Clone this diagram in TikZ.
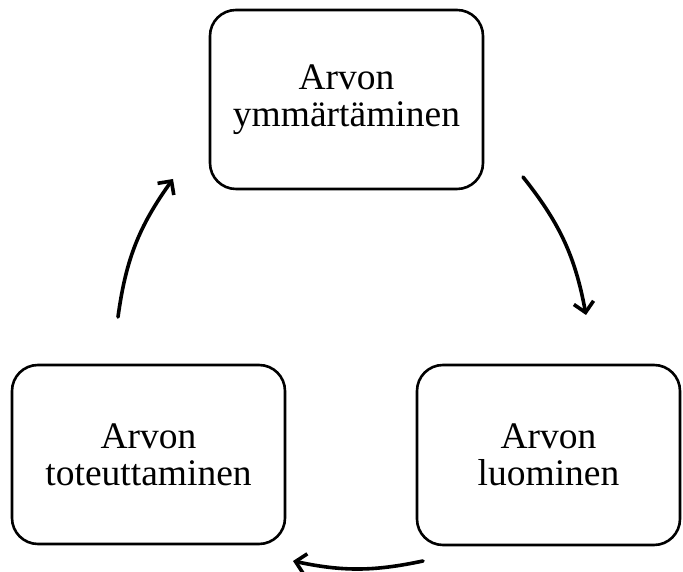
\documentclass[tikz,border=0pt]{standalone}
\usepackage{fontspec}
\setmainfont{Liberation Serif}
\usetikzlibrary{arrows.meta}
\begin{document}
\begin{tikzpicture}[x=1pt,y=1pt,
  stagebox/.style={draw=black, line width=2.6pt, rounded corners=26pt,
    align=center, inner sep=0pt, font=\fontsize{37.5}{37}\selectfont},
  cyclearrow/.style={line width=3.6pt, line cap=round,
    -{Straight Barb[length=10pt,width=20pt,line width=3.6pt]}}]
  \useasboundingbox (0,0) rectangle (683,572);

  % the three stages of the cycle
  \node[stagebox, minimum width=273pt, minimum height=179pt] (understand)
    at (346.5,472.5) {Arvon\\ymmärtäminen};
  \node[stagebox, minimum width=263pt, minimum height=180pt] (create)
    at (548.5,117) {Arvon\\luominen};
  \node[stagebox, minimum width=273pt, minimum height=179pt] (realise)
    at (148.5,117.5) {Arvon\\toteuttaminen};

  % free ends of the arrows between the stages
  \coordinate (u-out) at (523,395);
  \coordinate (c-in)  at (586,257);
  \coordinate (c-out) at (423,11);
  \coordinate (r-in)  at (293,11);
  \coordinate (r-out) at (118,255);
  \coordinate (u-in)  at (173,393);

  \draw[cyclearrow] (u-out) to[bend left=14] (c-in);
  \draw[cyclearrow] (c-out) to[bend left=12] (r-in);
  \draw[cyclearrow] (r-out) to[bend left=14] (u-in);
\end{tikzpicture}
\end{document}
